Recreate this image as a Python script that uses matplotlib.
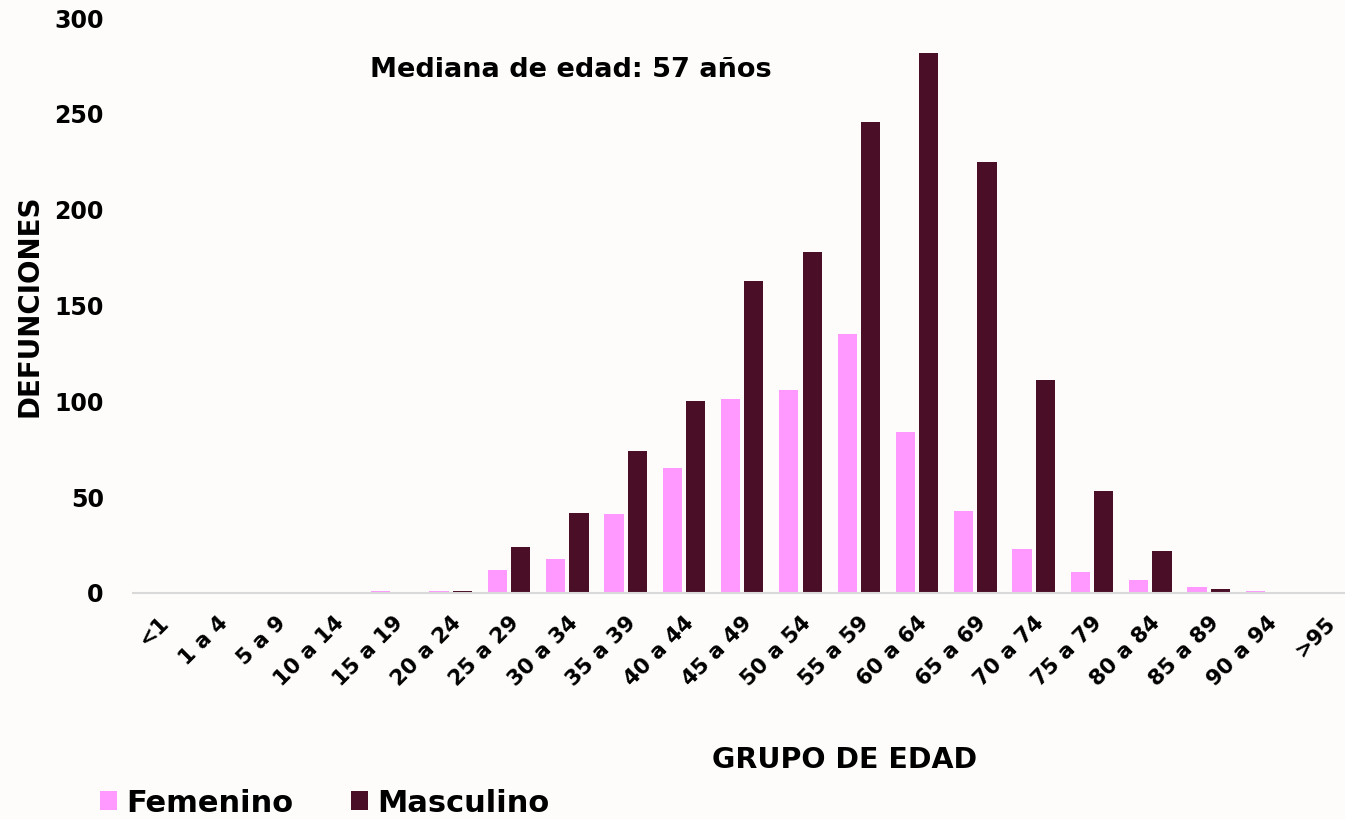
import numpy as np
import matplotlib.pyplot as plt

# ==== Data ====
grupos = ["<1", "1 a 4", "5 a 9", "10 a 14", "15 a 19", "20 a 24", "25 a 29",
          "30 a 34", "35 a 39", "40 a 44", "45 a 49", "50 a 54", "55 a 59",
          "60 a 64", "65 a 69", "70 a 74", "75 a 79", "80 a 84", "85 a 89",
          "90 a 94", ">95"]
femenino = [0, 0, 0, 0, 1, 1, 12, 18, 41, 65, 101, 106, 135, 84, 43, 23, 11, 7, 3, 1, 0]
masculino = [0, 0, 0, 0, 0, 1, 24, 42, 74, 100, 163, 178, 246, 282, 225, 111, 53, 22, 2, 0, 0]
y_ticks = [0, 50, 100, 150, 200, 250, 300]

col_f = "#FF99FF"
col_m = "#4A0E27"
bg = "#FDFCFA"

plt.rcParams['font.family'] = ['DejaVu Sans']
plt.rcParams['font.weight'] = 'bold'

fig = plt.figure(figsize=(13.45, 8.19), dpi=100, facecolor=bg)
ax = fig.add_axes([133 / 1345, (819 - 593) / 819, (1345 - 133) / 1345, 575 / 819])
ax.set_facecolor(bg)

x = np.arange(len(grupos))
w = 0.33
ax.bar(x - 0.2, femenino, width=w, color=col_f, label="Femenino")
ax.bar(x + 0.2, masculino, width=w, color=col_m, label="Masculino")

ax.set_xlim(-0.45, 20.34)
ax.set_ylim(0, 300)
ax.set_yticks(y_ticks)
ax.set_yticklabels([str(t) for t in y_ticks], fontsize=17, fontweight='bold')
ax.set_xticks(x)
ax.set_xticklabels(grupos, rotation=45, ha='right', rotation_mode='anchor',
                   fontsize=15.5, fontweight='bold')
ax.tick_params(axis='both', length=0)
ax.tick_params(axis='y', pad=21)
ax.tick_params(axis='x', pad=14)

for s in ['top', 'right', 'left']:
    ax.spines[s].set_visible(False)
ax.spines['bottom'].set_color('#D9D9D9')
ax.spines['bottom'].set_linewidth(1.5)

fig.text(30 / 1345, 1 - 306 / 819, "DEFUNCIONES", rotation=90, ha='center', va='center',
         fontsize=20, fontweight='bold')
fig.text(845 / 1345, 1 - 760 / 819, "GRUPO DE EDAD", ha='center', va='center',
         fontsize=20.5, fontweight='bold')
fig.text(370 / 1345, 1 - 70 / 819, "Mediana de edad: 57 años", ha='left', va='center',
         fontsize=19.5, fontweight='bold')

leg = fig.legend(loc='center left', bbox_to_anchor=(100 / 1345, 1 - 803 / 819), ncol=2,
                 frameon=False, prop={'size': 22, 'weight': 'bold'},
                 handlelength=0.55, handleheight=0.55, handletextpad=0.3,
                 columnspacing=1.9, borderaxespad=0, borderpad=0)

fig.savefig("out.png", dpi=100, facecolor=bg)
